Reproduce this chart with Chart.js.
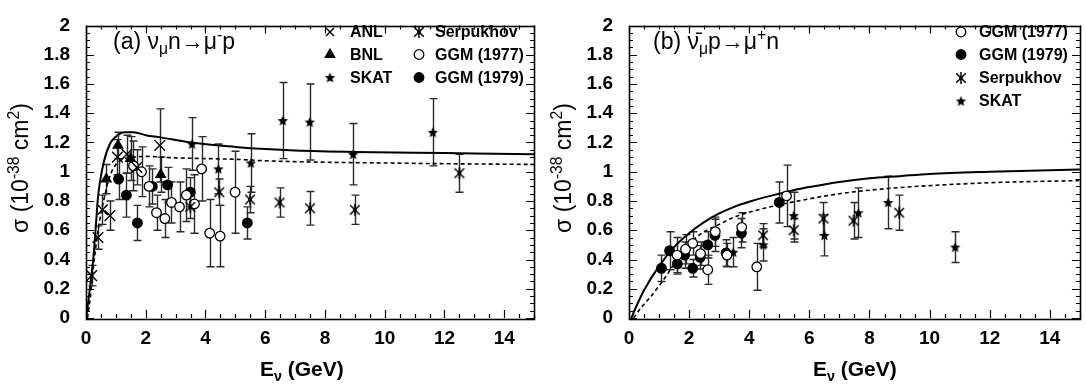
<!DOCTYPE html>
<html><head><meta charset="utf-8">
<script src="https://cdn.jsdelivr.net/npm/chart.js@4.4.1/dist/chart.umd.min.js"></script>
<style>
body{margin:0;background:#fff;font-family:"Liberation Sans",Arial,sans-serif;}
#wrap{position:relative;width:1086px;height:385px;overflow:hidden;}
.panel{position:absolute;top:0;width:543px;height:385px;}
.panel canvas{position:absolute;left:0;top:0;}
.lbl{position:absolute;white-space:nowrap;color:#000;line-height:1;}
.note{font-size:23px;top:30px;}
.xt{font-size:21px;font-weight:bold;top:358px;}
.yt{font-size:23px;width:260px;height:26px;line-height:26px;text-align:center;left:-110px;top:155px;transform:rotate(-90deg);}
.sub{position:relative;font-size:0.68em;top:0.32em;}
.sup{position:relative;font-size:0.68em;top:-0.55em;}
.leg{position:absolute;white-space:nowrap;font-size:16px;font-weight:bold;line-height:20px;color:#000;}
</style></head>
<body>
<div id="wrap">
  <div class="panel" style="left:0">
    <canvas id="c1" width="543" height="385"></canvas>
    <div class="lbl yt">σ (10<span class="sup">-38</span> cm<span class="sup">2</span>)</div>
    <div class="lbl xt" style="left:260px">E<span class="sub">ν</span> (GeV)</div>
    <div class="lbl note" style="left:113px">(a) ν<span class="sub">μ</span>n→μ<span class="sup">-</span>p</div>
  </div>
  <div class="panel" style="left:543px">
    <canvas id="c2" width="543" height="385"></canvas>
    <div class="lbl yt">σ (10<span class="sup">-38</span> cm<span class="sup">2</span>)</div>
    <div class="lbl xt" style="left:270px">E<span class="sub">ν</span> (GeV)</div>
    <div class="lbl note" style="left:110px">(b) ν̄<span class="sub">μ</span>p→μ<span class="sup">+</span>n</div>
  </div>
</div>
<script>
// ---------- tick values / labels ----------
const xTickValues = [0, 2, 4, 6, 8, 10, 12, 14];
const xTickLabels = ['0', '2', '4', '6', '8', '10', '12', '14'];
const yTickValues = [0, 0.2, 0.4, 0.6, 0.8, 1.0, 1.2, 1.4, 1.6, 1.8, 2.0];
const yTickLabels = ['0', '0.2', '0.4', '0.6', '0.8', '1', '1.2', '1.4', '1.6', '1.8', '2'];

// ---------- panel (a): nu_mu n -> mu- p ----------
const aAnlE   = [0.19, 0.40, 0.55, 0.80, 1.05, 1.37, 1.70, 2.47];
const aAnlS   = [0.29, 0.55, 0.74, 0.70, 1.10, 1.12, 1.03, 1.18];
const aAnlErr = [0.07, 0.08, 0.10, 0.10, 0.12, 0.13, 0.12, 0.25];

const aBnlE   = [0.68, 1.07, 1.49, 2.50];
const aBnlS   = [0.95, 1.18, 1.09, 0.98];
const aBnlErr = [0.10, 0.09, 0.15, 0.12];

const aSkatE   = [3.55, 4.43, 5.52, 6.59, 7.49, 8.94, 11.61];
const aSkatS   = [1.19, 1.02, 1.06, 1.35, 1.34, 1.12, 1.27];
const aSkatErr = [0.18, 0.17, 0.20, 0.26, 0.26, 0.21, 0.23];

const aSerpE   = [3.49, 4.46, 5.49, 6.48, 7.50, 9.00, 12.50];
const aSerpS   = [0.76, 0.86, 0.81, 0.79, 0.75, 0.74, 0.99];
const aSerpErr = [0.08, 0.09, 0.09, 0.10, 0.115, 0.10, 0.13];

const aGgm77E   = [1.59, 1.86, 2.11, 2.36, 2.64, 2.86, 3.13, 3.36, 3.63, 3.87, 4.14, 4.49, 4.99];
const aGgm77S   = [1.04, 1.00, 0.90, 0.72, 0.68, 0.79, 0.76, 0.84, 0.78, 1.02, 0.58, 0.56, 0.86];
const aGgm77Err = [0.17, 0.17, 0.14, 0.12, 0.13, 0.14, 0.17, 0.18, 0.20, 0.22, 0.23, 0.21, 0.28];

const aGgm79E   = [1.09, 1.35, 1.72, 2.22, 2.73, 3.49, 5.40];
const aGgm79S   = [0.95, 0.84, 0.65, 0.90, 0.91, 0.86, 0.65];
const aGgm79Err = [0.14, 0.15, 0.12, 0.12, 0.12, 0.10, 0.11];

const aSolidE = [0, 0.13, 0.24, 0.32, 0.39, 0.46, 0.6, 0.8, 1.0, 1.3, 1.6, 2.0, 2.5, 3.5, 5, 6, 7, 9, 11, 13, 15];
const aSolidS = [0, 0.20, 0.40, 0.60, 0.80, 0.92, 1.07, 1.19, 1.24, 1.27, 1.27, 1.25, 1.235, 1.20, 1.17, 1.155, 1.145, 1.135, 1.13, 1.125, 1.12];
const aDashE  = [0.05, 0.15, 0.25, 0.35, 0.45, 0.6, 0.8, 1.0, 1.3, 1.6, 2.0, 2.5, 3, 4, 5, 6, 8, 10, 12, 15];
const aDashS  = [0, 0.15, 0.35, 0.52, 0.66, 0.81, 0.97, 1.05, 1.09, 1.10, 1.105, 1.10, 1.095, 1.09, 1.085, 1.075, 1.065, 1.06, 1.055, 1.05];

// ---------- panel (b): anti-nu_mu p -> mu+ n ----------
const bGgm77E   = [1.60, 1.88, 2.12, 2.38, 2.62, 2.87, 3.26, 3.75, 4.25, 5.24];
const bGgm77S   = [0.43, 0.47, 0.51, 0.44, 0.33, 0.59, 0.43, 0.62, 0.35, 0.835];
const bGgm77Err = [0.12, 0.10, 0.08, 0.08, 0.10, 0.10, 0.08, 0.10, 0.16, 0.21];

const bGgm79E   = [1.08, 1.35, 1.61, 1.85, 2.12, 2.37, 2.62, 2.86, 3.23, 3.74, 5.00];
const bGgm79S   = [0.34, 0.46, 0.37, 0.43, 0.34, 0.415, 0.50, 0.565, 0.445, 0.58, 0.79];
const bGgm79Err = [0.09, 0.13, 0.07, 0.09, 0.06, 0.08, 0.09, 0.11, 0.09, 0.10, 0.14];

const bSerpE   = [4.46, 5.48, 6.47, 7.47, 8.99];
const bSerpS   = [0.565, 0.60, 0.68, 0.665, 0.72];
const bSerpErr = [0.08, 0.08, 0.11, 0.125, 0.12];

const bSkatE   = [3.47, 4.47, 5.48, 6.50, 7.63, 8.62, 10.85];
const bSkatS   = [0.45, 0.50, 0.70, 0.565, 0.72, 0.79, 0.485];
const bSkatErr = [0.10, 0.11, 0.16, 0.14, 0.17, 0.18, 0.105];

const bSolidE = [0.08, 0.2, 0.5, 1.0, 1.5, 2.0, 2.5, 3.0, 3.5, 4.0, 4.5, 5.0, 5.5, 6.0, 7, 8, 9, 10, 12, 15];
const bSolidS = [0, 0.06, 0.19, 0.355, 0.485, 0.58, 0.655, 0.715, 0.76, 0.795, 0.825, 0.85, 0.875, 0.895, 0.93, 0.955, 0.97, 0.985, 1.0, 1.015];
const bDashE  = [0.15, 0.4, 0.7, 1.0, 1.25, 1.5, 1.8, 2.35, 3, 3.5, 4.5, 5.5, 7, 8.6, 10, 12, 15];
const bDashS  = [0, 0.07, 0.14, 0.22, 0.29, 0.37, 0.46, 0.57, 0.64, 0.69, 0.75, 0.795, 0.85, 0.885, 0.905, 0.925, 0.94];

// ---------- marker images ----------
function starCanvas(R) {
  const s = Math.ceil(R * 2 + 2), c = document.createElement('canvas');
  c.width = c.height = s;
  const g = c.getContext('2d'), cx = s / 2, cy = s / 2 + 0.5;
  g.beginPath();
  for (let k = 0; k < 10; k++) {
    const r = k % 2 ? R * 0.45 : R, ang = -Math.PI / 2 + k * Math.PI / 5;
    g.lineTo(cx + r * Math.cos(ang), cy + r * Math.sin(ang));
  }
  g.closePath(); g.fillStyle = '#000'; g.fill();
  return c;
}
function serpCanvas(R) {
  const s = Math.ceil(R * 2 + 2), c = document.createElement('canvas');
  c.width = c.height = s;
  const g = c.getContext('2d'), cx = s / 2, cy = s / 2;
  g.strokeStyle = '#000'; g.lineWidth = 1.5;
  const d = R * 0.8;
  g.beginPath();
  g.moveTo(cx - d, cy - d); g.lineTo(cx + d, cy + d);
  g.moveTo(cx + d, cy - d); g.lineTo(cx - d, cy + d);
  g.moveTo(cx, cy - R); g.lineTo(cx, cy + R);
  g.stroke();
  g.fillStyle = '#000'; g.fillRect(cx - 1.8, cy - 1.8, 3.6, 3.6);
  return c;
}
const STAR = starCanvas(5.5);
const SERP = serpCanvas(6);

// ---------- helpers ----------
function pts(E, S) { return E.map((e, i) => ({ x: e, y: S[i] })); }
function markers(label, E, S, err, style) {
  return Object.assign({
    label, data: pts(E, S), errors: err, showLine: false,
    pointBorderColor: '#000', pointBorderWidth: 1.3, pointBackgroundColor: '#000', pointRadius: 4.6
  }, style);
}
function curve(label, E, S, dash, width) {
  return {
    label, data: pts(E, S), showLine: true, pointRadius: 0, borderColor: '#000',
    borderWidth: width, borderDash: dash, cubicInterpolationMode: 'monotone', fill: false
  };
}
const ST = {
  anl:   { pointStyle: 'crossRot', pointRadius: 7.5, pointBorderWidth: 1.4 },
  bnl:   { pointStyle: 'triangle', pointRadius: 5.5 },
  skat:  { pointStyle: STAR },
  serp:  { pointStyle: SERP },
  ggm77: { pointStyle: 'circle', pointRadius: 4.8, pointBackgroundColor: '#fff' },
  ggm79: { pointStyle: 'circle', pointRadius: 4.8, pointBackgroundColor: '#000' }
};

function drawMarker(ctx, ds, x, y) {
  const st = ds.pointStyle, r = ds.pointRadius;
  ctx.save();
  ctx.lineWidth = ds.pointBorderWidth; ctx.strokeStyle = '#000'; ctx.fillStyle = ds.pointBackgroundColor;
  if (typeof st !== 'string') {
    ctx.drawImage(st, x - st.width / 2, y - st.height / 2);
  } else if (st === 'circle') {
    ctx.beginPath(); ctx.arc(x, y, r, 0, Math.PI * 2); ctx.fill(); ctx.stroke();
  } else if (st === 'triangle') {
    ctx.beginPath();
    for (let k = 0; k < 3; k++) {
      const a = k * 2 * Math.PI / 3;
      ctx.lineTo(x + Math.sin(a) * r, y - Math.cos(a) * r);
    }
    ctx.closePath(); ctx.fill(); ctx.stroke();
  } else if (st === 'crossRot') {
    const d = r * Math.SQRT1_2 * 0.75;
    ctx.beginPath();
    ctx.moveTo(x - d, y - d); ctx.lineTo(x + d, y + d);
    ctx.moveTo(x + d, y - d); ctx.lineTo(x - d, y + d);
    ctx.stroke();
  }
  ctx.restore();
}

// error bars, drawn through the scales
const errorBars = {
  id: 'errorBars',
  beforeDatasetsDraw(chart) {
    const { ctx, scales: { x, y } } = chart;
    ctx.save();
    ctx.strokeStyle = '#2a2a2a'; ctx.lineWidth = 1.4;
    chart.data.datasets.forEach(ds => {
      if (!ds.errors) return;
      ds.data.forEach((p, j) => {
        const px = Math.round(x.getPixelForValue(p.x)) + 0.5;
        const t = y.getPixelForValue(p.y + ds.errors[j]);
        const b = y.getPixelForValue(p.y - ds.errors[j]);
        ctx.beginPath();
        ctx.moveTo(px, t); ctx.lineTo(px, b);
        ctx.moveTo(px - 4, t); ctx.lineTo(px + 4, t);
        ctx.moveTo(px - 4, b); ctx.lineTo(px + 4, b);
        ctx.stroke();
      });
    });
    ctx.restore();
  }
};

// frame with inward ticks on all four sides
const X_MINOR = 0.5, X_MAJOR = 2, Y_MINOR = 0.05, Y_MAJOR = 0.2;
const frame = {
  id: 'frame',
  afterDraw(chart) {
    const { ctx, chartArea: a, scales: { x, y } } = chart;
    ctx.save();
    ctx.strokeStyle = '#000';
    ctx.lineWidth = 1.2;
    ctx.beginPath();
    for (let i = 0; i * X_MINOR <= x.max + 1e-9; i++) {
      const v = i * X_MINOR, px = Math.round(x.getPixelForValue(v)) + 0.5;
      const major = Math.abs(v / X_MAJOR - Math.round(v / X_MAJOR)) < 1e-6;
      const len = major ? 8 : 4;
      ctx.moveTo(px, a.bottom); ctx.lineTo(px, a.bottom - len);
      ctx.moveTo(px, a.top); ctx.lineTo(px, a.top + len);
    }
    for (let i = 0; i * Y_MINOR <= y.max + 1e-9; i++) {
      const v = i * Y_MINOR, py = Math.round(y.getPixelForValue(v)) + 0.5;
      const major = Math.abs(v / Y_MAJOR - Math.round(v / Y_MAJOR)) < 1e-6;
      const len = major ? 8 : 4;
      ctx.moveTo(a.left, py); ctx.lineTo(a.left + len, py);
      ctx.moveTo(a.right, py); ctx.lineTo(a.right - len, py);
    }
    ctx.stroke();
    ctx.lineWidth = 1.6;
    ctx.strokeRect(Math.round(a.left) + 0.5, Math.round(a.top) + 0.5, Math.round(a.right - a.left), Math.round(a.bottom - a.top));
    ctx.restore();
  }
};

// symbol legend inside the plot: markers on the canvas, names as page text
const symLegend = {
  id: 'symLegend',
  afterDraw(chart, args, opts) {
    const ctx = chart.ctx;
    const holder = chart.canvas.parentNode;
    (opts.items || []).forEach(it => {
      const ds = chart.data.datasets[it.ds];
      drawMarker(ctx, ds, it.sx, it.y);
      if (!it.done) {
        const d = document.createElement('div');
        d.className = 'leg';
        d.textContent = ds.label;
        d.style.left = it.tx + 'px';
        d.style.top = (it.y - 10) + 'px';
        holder.appendChild(d);
        it.done = true;
      }
    });
  }
};

function makeChart(id, datasets, legendItems, padRight) {
  const font = { family: '"Liberation Sans", Arial, sans-serif', size: 19, weight: 'bold', lineHeight: 1 };
  return new Chart(document.getElementById(id), {
    type: 'scatter',
    data: { datasets },
    plugins: [errorBars, frame, symLegend],
    options: {
      responsive: false, animation: false, events: [],
      layout: { padding: { top: 10, right: padRight, left: 0, bottom: 0 } },
      plugins: { legend: { display: false }, tooltip: { enabled: false }, symLegend: { items: legendItems } },
      scales: {
        x: {
          type: 'linear', min: 0, max: 15,
          grid: { display: false, drawTicks: false }, border: { display: false },
          afterBuildTicks: s => { s.ticks = xTickValues.map(v => ({ value: v })); },
          afterFit: s => { s.height = 67; },
          ticks: { font, color: '#000', padding: 11, maxRotation: 0, autoSkip: false,
                   callback: (v, i) => xTickLabels[i] }
        },
        y: {
          type: 'linear', min: 0, max: 2,
          grid: { display: false, drawTicks: false }, border: { display: false },
          afterBuildTicks: s => { s.ticks = yTickValues.map(v => ({ value: v })); },
          afterFit: s => { s.width = 86; },
          ticks: { font, color: '#000', padding: 16, autoSkip: false,
                   callback: (v, i) => yTickLabels[i] }
        }
      }
    }
  });
}

makeChart('c1', [
  markers('ANL', aAnlE, aAnlS, aAnlErr, ST.anl),
  markers('BNL', aBnlE, aBnlS, aBnlErr, ST.bnl),
  markers('SKAT', aSkatE, aSkatS, aSkatErr, ST.skat),
  markers('Serpukhov', aSerpE, aSerpS, aSerpErr, ST.serp),
  markers('GGM (1977)', aGgm77E, aGgm77S, aGgm77Err, ST.ggm77),
  markers('GGM (1979)', aGgm79E, aGgm79S, aGgm79Err, ST.ggm79),
  curve('solid', aSolidE, aSolidS, [], 2),
  curve('dashed', aDashE, aDashS, [4, 3], 1.6)
], [
  { ds: 0, sx: 330, tx: 350, y: 32 },
  { ds: 1, sx: 330, tx: 350, y: 54.5 },
  { ds: 2, sx: 330, tx: 350, y: 77.5 },
  { ds: 3, sx: 419, tx: 435, y: 32 },
  { ds: 4, sx: 419, tx: 435, y: 54.5 },
  { ds: 5, sx: 419, tx: 435, y: 77.5 }
], 4);

makeChart('c2', [
  markers('GGM (1977)', bGgm77E, bGgm77S, bGgm77Err, ST.ggm77),
  markers('GGM (1979)', bGgm79E, bGgm79S, bGgm79Err, ST.ggm79),
  markers('Serpukhov', bSerpE, bSerpS, bSerpErr, ST.serp),
  markers('SKAT', bSkatE, bSkatS, bSkatErr, ST.skat),
  curve('solid', bSolidE, bSolidS, [], 2),
  curve('dashed', bDashE, bDashS, [4, 3], 1.6)
], [
  { ds: 0, sx: 418, tx: 436, y: 32 },
  { ds: 1, sx: 418, tx: 436, y: 54.5 },
  { ds: 2, sx: 418, tx: 436, y: 78 },
  { ds: 3, sx: 418, tx: 436, y: 101 }
], 3);
</script>
</body></html>
